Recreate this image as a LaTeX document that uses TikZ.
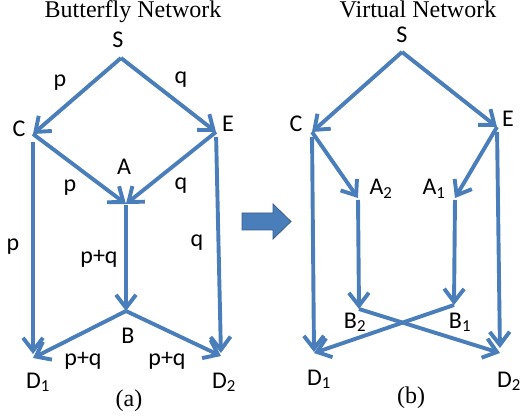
\documentclass[tikz,border=0pt]{standalone}
\usepackage{fontspec}
\setmainfont{Liberation Serif}
\setsansfont{Carlito}
\usepackage{tikz}
\usetikzlibrary{arrows.meta,positioning}
\definecolor{netblue}{RGB}{74,126,187}
\definecolor{netdark}{RGB}{56,93,138}
\tikzstyle{edge}=[draw=netblue,line width=3.9pt,-{Straight Barb[length=13pt,width=20pt]}]
\tikzstyle{lbl}=[inner sep=0pt,anchor=base,font=\sffamily\fontsize{24}{28}\selectfont]
\tikzstyle{caption}=[inner sep=0pt,anchor=base,font=\rmfamily\fontsize{24}{28}\selectfont]

\begin{document}
\begin{tikzpicture}[x=1pt,y=-1pt]
\useasboundingbox (0,0) rectangle (521,419);

% butterfly network
\coordinate (S1) at (121,58);
\coordinate (C1) at (33,134);
\coordinate (E1) at (216,132);
\coordinate (A1) at (126,204);
\coordinate (B1) at (126,311);
\coordinate (D11) at (33,358);
\coordinate (D21) at (221,356);

\node [caption] (t1) at (133,18) {Butterfly Network};
\node [lbl] (s1) at (118,48) {S};
\node [lbl] (c1) at (19,137) {C};
\node [lbl] (e1) at (228,132) {E};
\node [lbl] (a1) at (124,175) {A};
\node [lbl] (b1) at (128,343) {B};
\node [lbl] (d11) at (38,388) {D\textsubscript{1}};
\node [lbl] (d21) at (224,388) {D\textsubscript{2}};
\node [lbl] (psc) at (60,87) {p};
\node [lbl] (qse) at (181,84) {q};
\node [lbl] (pca) at (70,192) {p};
\node [lbl] (qea) at (181,190) {q};
\node [lbl] (pcd) at (13,251) {p};
\node [lbl] (pqab) at (99,263) {p+q};
\node [lbl] (qed) at (197,247) {q};
\node [lbl] (pqbd1) at (83,365) {p+q};
\node [lbl] (pqbd2) at (167,365) {p+q};
\node [caption] (ca) at (129,406) {(a)};

\draw [edge] (S1) -- (C1);
\draw [edge] (S1) -- (E1);
\draw [edge] (C1) -- (A1);
\draw [edge] (E1) -- (A1);
\draw [edge,shorten <=1pt] (A1) -- (B1);
\draw [edge,shorten <=8pt,shorten >=4pt] (C1) -- (D11);
\draw [edge,shorten <=5pt,shorten >=3pt] (E1) -- (D21);
\draw [edge] (B1) -- (D11);
\draw [edge] (B1) -- (D21);

% block arrow
\draw [netdark,fill=netblue,line width=0.8pt] (242,213) -- (273,213) -- (273,204)
  -- (291,221.5) -- (273,239) -- (273,230) -- (242,230) -- cycle;

% virtual network
\coordinate (S2) at (402,52);
\coordinate (C2) at (312,132);
\coordinate (E2) at (497,127);
\coordinate (A22) at (358,198);
\coordinate (A12) at (455,198);
\coordinate (B22) at (359,309);
\coordinate (B12) at (454,305);
\coordinate (D12) at (314,353);
\coordinate (D22) at (500,353);

\node [caption] (t2) at (418,18) {Virtual Network};
\node [lbl] (s2) at (402,43) {S};
\node [lbl] (c2) at (296,132) {C};
\node [lbl] (e2) at (508,127) {E};
\node [lbl] (a22) at (381,195) {A\textsubscript{2}};
\node [lbl] (a12) at (434,195) {A\textsubscript{1}};
\node [lbl] (b22) at (355,328) {B\textsubscript{2}};
\node [lbl] (b12) at (460,328) {B\textsubscript{1}};
\node [lbl] (d12) at (319,385) {D\textsubscript{1}};
\node [lbl] (d22) at (509,387) {D\textsubscript{2}};
\node [caption] (cb) at (411,403) {(b)};

\draw [edge] (S2) -- (C2);
\draw [edge] (S2) -- (E2);
\draw [edge] (C2) -- (A22);
\draw [edge] (E2) -- (A12);
\draw [edge,shorten <=2pt] (A22) -- (B22);
\draw [edge,shorten <=2pt] (A12) -- (B12);
\draw [edge,shorten <=5pt,shorten >=1pt] (C2) -- (D12);
\draw [edge,shorten <=5pt,shorten >=5pt] (E2) -- (D22);
\draw [edge] (B22) -- (D22);
\draw [edge] (B12) -- (D12);
\end{tikzpicture}
\end{document}
